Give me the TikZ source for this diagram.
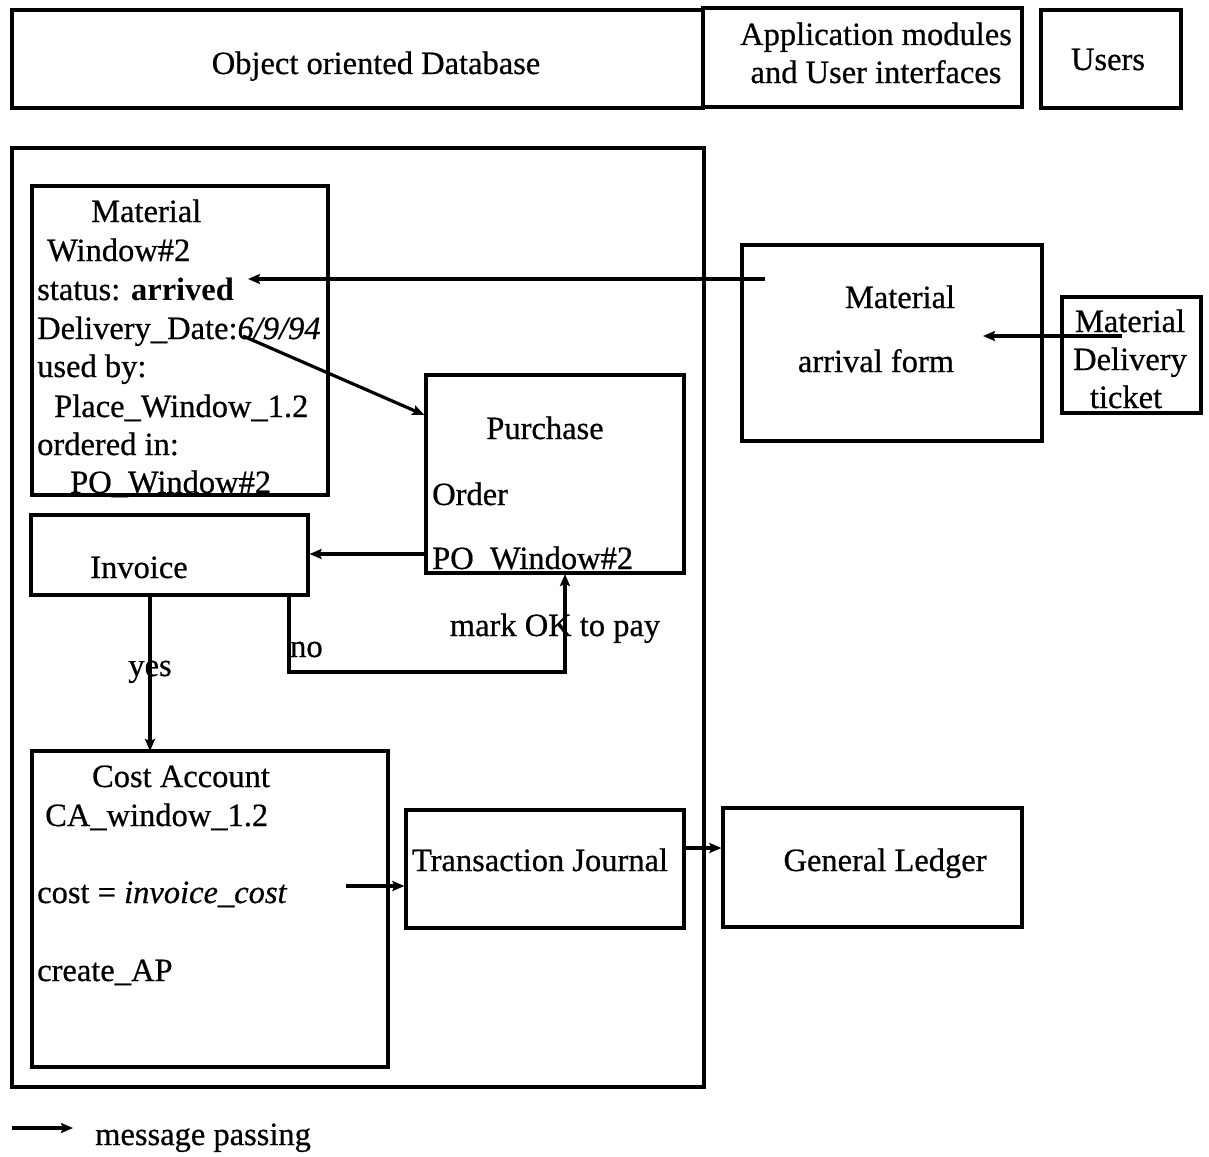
\documentclass[tikz,border=0pt]{standalone}
\usepackage{fontspec}
\setmainfont{Liberation Serif}[UprightFeatures={FakeBold=0.6},ItalicFeatures={FakeBold=0.6}]
\usetikzlibrary{arrows.meta,fit}
\begin{document}
\begin{tikzpicture}[x=1pt,y=-1pt,
  box/.style={draw, line width=3.2pt, inner sep=0pt},
  txt/.style={inner sep=0pt, font=\fontsize{32.5}{38}\selectfont},
  msg/.style={line width=3.2pt, -{Stealth[length=12pt,width=10pt,inset=2pt]}}]
\useasboundingbox (0,0) rectangle (1209,1156);

% header strip
\node[box, fit={(12,10) (703,108)}] (db) {};
\node[box, fit={(703,8) (1022,107)}] (app) {};
\node[box, fit={(1041,10) (1181,108)}] (users) {};
\node[txt, anchor=base] (dbT) at (376,74) {Object oriented Database};
\node[txt, anchor=base] (appT1) at (876,45) {Application modules};
\node[txt, anchor=base] (appT2) at (876,83) {and User interfaces};
\node[txt, anchor=base] (usersT) at (1108,70) {Users};

% object database frame
\node[box, fit={(12,148) (704,1087)}] (odb) {};

% Material Window#2
\node[box, fit={(32,186) (328,495)}] (mw) {};
\node[txt, anchor=base west] (mw1) at (91,222) {Material};
\node[txt, anchor=base west] (mw2) at (47,261) {Window\#2};
\node[txt, anchor=base west] (mw3) at (37,300) {status: \textbf{arrived}};
\node[txt, anchor=base west] (mw4) at (37,339) {Delivery\_Date:\textit{6/9/94}};
\node[txt, anchor=base west] (mw5) at (37,377) {used by:};
\node[txt, anchor=base west] (mw6) at (54,417) {Place\_Window\_1.2};
\node[txt, anchor=base west] (mw7) at (37,455) {ordered in:};
\node[txt, anchor=base west] (mw8) at (70,493) {PO\_Window\#2};

% Material arrival form
\node[box, fit={(742,245) (1042,441)}] (maf) {};
\node[txt, anchor=base] (maf1) at (900,308) {Material};
\node[txt, anchor=base] (maf2) at (876,372) {arrival form};

% Material Delivery ticket
\node[box, fit={(1062,297) (1201,413)}] (mdt) {};
\node[txt, anchor=base] (mdt1) at (1130,332) {Material};
\node[txt, anchor=base] (mdt2) at (1130,370) {Delivery};
\node[txt, anchor=base] (mdt3) at (1126,408) {ticket};

% Purchase Order
\node[box, fit={(426,375) (684,573)}] (po) {};
\node[txt, anchor=base] (po1) at (545,439) {Purchase};
\node[txt, anchor=base west] (po2) at (432,505) {Order};
\node[txt, anchor=base west] (po3) at (432,569) {PO\_Window\#2};

% Invoice
\node[box, fit={(31,515) (308,595)}] (inv) {};
\node[txt, anchor=base] (invT) at (139,578) {Invoice};

% Cost Account
\node[box, fit={(32,751) (388,1067)}] (ca) {};
\node[txt, anchor=base] (ca1) at (181,787) {Cost Account};
\node[txt, anchor=base west] (ca2) at (45,826) {CA\_window\_1.2};
\node[txt, anchor=base west] (ca3) at (37,903) {cost = \textit{invoice\_cost}};
\node[txt, anchor=base west] (ca4) at (37,981) {create\_AP};

% Transaction Journal and General Ledger
\node[box, fit={(406,810) (684,928)}] (tj) {};
\node[txt, anchor=base] (tjT) at (540,871) {Transaction Journal};
\node[box, fit={(723,808) (1022,927)}] (gl) {};
\node[txt, anchor=base] (glT) at (885,871) {General Ledger};

% connector end points
\coordinate (mafOut) at (765,279);
\coordinate (mwIn) at (248,279);
\coordinate (mdtOut) at (1122,336);
\coordinate (mafIn) at (983,336);
\coordinate (dateOut) at (243,336);
\coordinate (poIn) at (po.west |- 0,415);
\coordinate (poOut) at (po.west |- 0,554);
\coordinate (invIn) at (inv.east |- 0,554);
\coordinate (noStart) at (289,595);
\coordinate (noCorner1) at (289,672);
\coordinate (noCorner2) at (565,672);
\coordinate (okIn) at (565,574);
\coordinate (yesStart) at (150,595);
\coordinate (yesEnd) at (150,751);
\coordinate (costOut) at (346,886);
\coordinate (tjIn) at (tj.west |- 0,886);
\coordinate (tjOut) at (tj.east |- 0,848);
\coordinate (glIn) at (gl.west |- 0,848);

% messages
\draw[msg] (mafOut) -- (mwIn);
\draw[msg] (mdtOut) -- (mafIn);
\draw[msg] (dateOut) -- (poIn);
\draw[msg] (poOut) -- (invIn);
\draw[msg] (noStart) -- (noCorner1) -- (noCorner2) -- (okIn);
\draw[msg] (yesStart) -- (yesEnd);
\draw[msg] (costOut) -- (tjIn);
\draw[msg] (tjOut) -- (glIn);

% connector labels
\node[txt, anchor=base west] (noL) at (290,657) {no};
\node[txt, anchor=base] (okL) at (555,636) {mark OK to pay};
\node[txt, anchor=base] (yesL) at (150,676) {yes};

% legend
\coordinate (legA) at (12,1128);
\coordinate (legB) at (73,1128);
\draw[msg] (legA) -- (legB);
\node[txt, anchor=base west] (legT) at (95,1145) {message passing};
\end{tikzpicture}
\end{document}
